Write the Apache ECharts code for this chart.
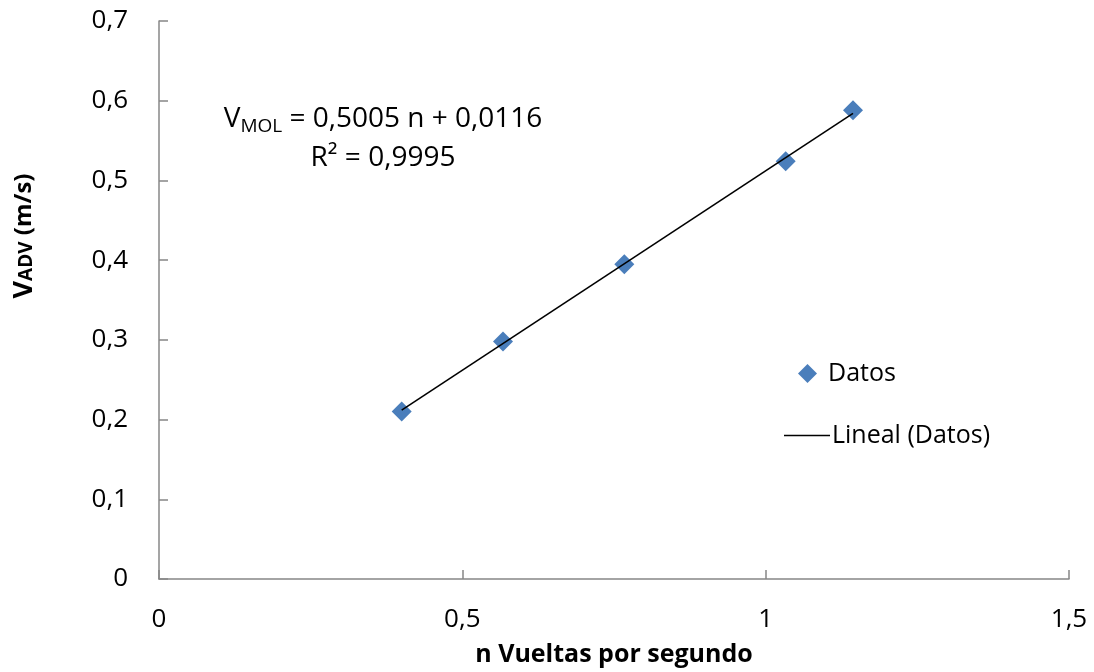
<!DOCTYPE html>
<html>
<head>
<meta charset="utf-8">
<script src="https://cdn.jsdelivr.net/npm/echarts@6/dist/echarts.min.js"></script>
<style>
  html, body { margin: 0; padding: 0; background: #fff; }
  #chart { width: 1094px; height: 672px; }
</style>
</head>
<body>
<div id="chart"></div>
<script>
// Measured turns per second and velocity
const vueltas = [0.400, 0.567, 0.767, 1.033, 1.144];
const velocidad = [0.210, 0.298, 0.395, 0.524, 0.588];

// Linear fit reported on the chart
const pendiente = 0.5005;
const ordenada = 0.0116;
const r2 = 0.9995;

// Axis tick values
const xTicks = [0, 0.5, 1, 1.5];
const yTicks = [0, 0.1, 0.2, 0.3, 0.4, 0.5, 0.6, 0.7];

const FONT = "'Open Sans', 'Noto Sans', sans-serif";
const coma = v => String(v).replace('.', ',');

const puntos = vueltas.map((x, i) => [x, velocidad[i]]);
const xMin = Math.min(...vueltas), xMax = Math.max(...vueltas);
const tendencia = [xMin, xMax].map(x => [x, pendiente * x + ordenada]);

const chart = echarts.init(document.getElementById('chart'), null, { renderer: 'canvas' });

const axisCommon = {
  axisLine: { show: true, lineStyle: { color: '#878787', width: 1.5 } },
  axisTick: { show: true, inside: true, length: 9, lineStyle: { color: '#878787', width: 1.5 } },
  splitLine: { show: false },
  axisLabel: { color: '#000', fontFamily: FONT, fontSize: 26, formatter: v => coma(v) }
};

chart.setOption({
  animation: false,
  backgroundColor: '#fff',
  grid: { left: 159, right: 25, top: 21, bottom: 91, containLabel: false },
  xAxis: Object.assign({}, axisCommon, {
    type: 'value',
    min: xTicks[0], max: xTicks[xTicks.length - 1], interval: xTicks[1] - xTicks[0],
    name: 'n Vueltas por segundo',
    nameLocation: 'middle', nameGap: 63,
    nameTextStyle: { color: '#000', fontFamily: FONT, fontSize: 25, fontWeight: 'bold' },
    axisLabel: Object.assign({}, axisCommon.axisLabel, { margin: 28 })
  }),
  yAxis: Object.assign({}, axisCommon, {
    type: 'value',
    min: yTicks[0], max: yTicks[yTicks.length - 1], interval: yTicks[1] - yTicks[0],
    axisLabel: Object.assign({}, axisCommon.axisLabel, { margin: 31 })
  }),
  legend: [
    {
      data: ['Datos'], orient: 'vertical', left: 793, top: 356,
      itemWidth: 19, itemHeight: 19,
      textStyle: { color: '#000', fontFamily: FONT, fontSize: 25, padding: [0, 0, 0, 6] }
    },
    {
      data: [{ name: 'Lineal (Datos)', icon: 'rect' }], orient: 'vertical', left: 779, top: 418,
      itemWidth: 46, itemHeight: 1.6,
      itemStyle: { color: '#000' },
      textStyle: { color: '#000', fontFamily: FONT, fontSize: 25, padding: [0, 0, 0, -3] }
    }
  ],
  series: [
    {
      name: 'Lineal (Datos)', type: 'line', data: tendencia,
      symbol: 'none', showSymbol: false,
      lineStyle: { color: '#000', width: 1.6 }, itemStyle: { color: '#000' },
      z: 3
    },
    {
      name: 'Datos', type: 'scatter', data: puntos,
      symbol: 'diamond', symbolSize: 20,
      itemStyle: { color: '#4A7EBB', opacity: 1 },
      z: 2
    }
  ],
  graphic: [
    {
      type: 'text', x: 383, y: 100,
      style: {
        text: '{t|V}{sub|MOL}{t| = ' + coma(pendiente) + ' n + ' + coma(ordenada) + '}\n{t|R² = ' + coma(r2) + '}',
        align: 'center', verticalAlign: 'top',
        rich: {
          t: { fontFamily: FONT, fontSize: 28, color: '#000', lineHeight: 39 },
          sub: { fontFamily: FONT, fontSize: 19, color: '#000', lineHeight: 39, padding: [15, 0, 0, 0] }
        }
      }
    },
    {
      type: 'text', x: 24, y: 236, rotation: Math.PI / 2,
      style: {
        text: '{v|V}{s|ADV}{n| (m/s)}',
        align: 'center', verticalAlign: 'middle',
        rich: {
          v: { fontFamily: FONT, fontSize: 27, fontWeight: 'bold', color: '#000' },
          s: { fontFamily: FONT, fontSize: 19, fontWeight: 'bold', color: '#000', padding: [6, 0, 0, 0] },
          n: { fontFamily: FONT, fontSize: 24, fontWeight: 'bold', color: '#000' }
        }
      }
    }
  ]
});
</script>
</body>
</html>
